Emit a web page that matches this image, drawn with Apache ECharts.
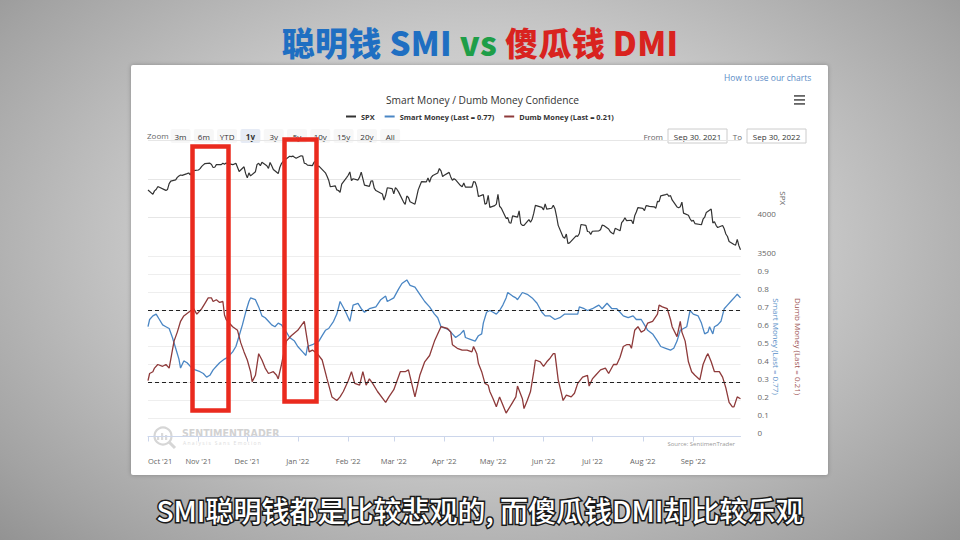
<!DOCTYPE html>
<html>
<head>
<meta charset="utf-8">
<script src="https://cdn.jsdelivr.net/npm/echarts@6/dist/echarts.min.js"></script>
<style>
  html,body{margin:0;padding:0;}
  body{width:960px;height:540px;overflow:hidden;position:relative;
    background:radial-gradient(ellipse 75% 85% at 50% 45%, #e2e2e2 0%, #c9c9c9 45%, #a3a3a3 80%, #8a8a8a 100%);
    font-family:"Noto Sans CJK SC","Noto Sans",sans-serif;}
  #headline{position:absolute;left:0;top:17px;width:960px;text-align:center;font-size:33px;font-weight:900;line-height:50px;letter-spacing:0.3px;}
  #panel{position:absolute;left:131px;top:65px;width:697px;height:410px;background:#fff;border-radius:2px;box-shadow:0 0 4px rgba(0,0,0,0.25);}
  #chart{position:absolute;left:0;top:0;width:960px;height:540px;}
  #caption{position:absolute;left:0;top:490px;width:960px;text-align:center;font-size:28px;font-weight:500;line-height:40px;color:#fff;
    -webkit-text-stroke:3px #1a1a1a;paint-order:stroke fill;}
</style>
</head>
<body>
<div id="headline"><span style="color:#1f6fc2">聪明钱 SMI</span> <span style="color:#1e9e48">vs</span> <span style="color:#d9231f">傻瓜钱 DMI</span></div>
<div id="panel"></div>
<div id="chart"></div>
<div id="caption">SMI聪明钱都是比较悲观的, 而傻瓜钱DMI却比较乐观</div>
<script>
// ---------------- DATA ----------------
const monthTicks = ['2021-10-01','2021-11-01','2021-12-01','2022-01-01','2022-02-01','2022-03-01','2022-04-01','2022-05-01','2022-06-01','2022-07-01','2022-08-01','2022-09-01'];
const monthNames = ['Jan','Feb','Mar','Apr','May','Jun','Jul','Aug','Sep','Oct','Nov','Dec'];
const spxTicks = [3500, 4000];

const spx = [
['2021-10-01',4357],['2021-10-04',4300],['2021-10-05',4345],['2021-10-06',4363],['2021-10-07',4399],['2021-10-08',4391],['2021-10-11',4361],['2021-10-12',4351],['2021-10-13',4364],['2021-10-14',4438],['2021-10-15',4471],['2021-10-18',4486],['2021-10-19',4519],['2021-10-20',4537],['2021-10-21',4549],['2021-10-22',4545],['2021-10-25',4567],['2021-10-26',4575],['2021-10-27',4551],['2021-10-28',4596],['2021-10-29',4605],
['2021-11-01',4614],['2021-11-02',4631],['2021-11-03',4660],['2021-11-04',4680],['2021-11-05',4697],['2021-11-08',4702],['2021-11-09',4685],['2021-11-10',4646],['2021-11-11',4649],['2021-11-12',4683],['2021-11-15',4683],['2021-11-16',4701],['2021-11-17',4689],['2021-11-18',4704],['2021-11-19',4698],['2021-11-22',4683],['2021-11-23',4690],['2021-11-24',4701],['2021-11-26',4595],['2021-11-29',4655],['2021-11-30',4567],
['2021-12-01',4513],['2021-12-02',4577],['2021-12-03',4538],['2021-12-06',4592],['2021-12-07',4686],['2021-12-08',4701],['2021-12-09',4668],['2021-12-10',4712],['2021-12-13',4669],['2021-12-14',4635],['2021-12-15',4710],['2021-12-16',4669],['2021-12-17',4621],['2021-12-20',4568],['2021-12-21',4649],['2021-12-22',4697],['2021-12-23',4725],['2021-12-27',4791],['2021-12-28',4786],['2021-12-29',4793],['2021-12-30',4778],['2021-12-31',4766],
['2022-01-03',4797],['2022-01-04',4794],['2022-01-05',4701],['2022-01-06',4696],['2022-01-07',4677],['2022-01-10',4670],['2022-01-11',4713],['2022-01-12',4726],['2022-01-13',4659],['2022-01-14',4663],['2022-01-18',4577],['2022-01-19',4533],['2022-01-20',4483],['2022-01-21',4398],['2022-01-24',4410],['2022-01-25',4357],['2022-01-26',4350],['2022-01-27',4327],['2022-01-28',4432],['2022-01-31',4516],
['2022-02-01',4546],['2022-02-02',4589],['2022-02-03',4477],['2022-02-04',4501],['2022-02-07',4484],['2022-02-08',4522],['2022-02-09',4587],['2022-02-10',4504],['2022-02-11',4419],['2022-02-14',4402],['2022-02-15',4472],['2022-02-16',4475],['2022-02-17',4380],['2022-02-18',4349],['2022-02-22',4305],['2022-02-23',4226],['2022-02-24',4288],['2022-02-25',4385],['2022-02-28',4374],
['2022-03-01',4306],['2022-03-02',4387],['2022-03-03',4363],['2022-03-04',4329],['2022-03-07',4201],['2022-03-08',4171],['2022-03-09',4278],['2022-03-10',4260],['2022-03-11',4204],['2022-03-14',4173],['2022-03-15',4263],['2022-03-16',4358],['2022-03-17',4412],['2022-03-18',4463],['2022-03-21',4461],['2022-03-22',4512],['2022-03-23',4457],['2022-03-24',4520],['2022-03-25',4543],['2022-03-28',4576],['2022-03-29',4632],['2022-03-30',4602],['2022-03-31',4530],
['2022-04-01',4546],['2022-04-04',4583],['2022-04-05',4525],['2022-04-06',4481],['2022-04-07',4501],['2022-04-08',4488],['2022-04-11',4413],['2022-04-12',4397],['2022-04-13',4447],['2022-04-14',4393],['2022-04-18',4392],['2022-04-19',4463],['2022-04-20',4459],['2022-04-21',4394],['2022-04-22',4272],['2022-04-25',4297],['2022-04-26',4175],['2022-04-27',4184],['2022-04-28',4288],['2022-04-29',4132],
['2022-05-02',4155],['2022-05-03',4175],['2022-05-04',4301],['2022-05-05',4147],['2022-05-06',4123],['2022-05-09',3991],['2022-05-10',4001],['2022-05-11',3935],['2022-05-12',3930],['2022-05-13',4024],['2022-05-16',4008],['2022-05-17',4088],['2022-05-18',3924],['2022-05-19',3901],['2022-05-20',3901],['2022-05-23',3974],['2022-05-24',3941],['2022-05-25',3979],['2022-05-26',4058],['2022-05-27',4158],['2022-05-31',4132],
['2022-06-01',4101],['2022-06-02',4177],['2022-06-03',4109],['2022-06-06',4121],['2022-06-07',4161],['2022-06-08',4116],['2022-06-09',4018],['2022-06-10',3901],['2022-06-13',3750],['2022-06-14',3735],['2022-06-15',3790],['2022-06-16',3667],['2022-06-17',3675],['2022-06-21',3765],['2022-06-22',3760],['2022-06-23',3796],['2022-06-24',3912],['2022-06-27',3901],['2022-06-28',3822],['2022-06-29',3819],['2022-06-30',3785],
['2022-07-01',3825],['2022-07-05',3831],['2022-07-06',3845],['2022-07-07',3903],['2022-07-08',3899],['2022-07-11',3855],['2022-07-12',3819],['2022-07-13',3802],['2022-07-14',3790],['2022-07-15',3863],['2022-07-18',3831],['2022-07-19',3937],['2022-07-20',3960],['2022-07-21',3999],['2022-07-22',3962],['2022-07-25',3967],['2022-07-26',3921],['2022-07-27',4024],['2022-07-28',4073],['2022-07-29',4130],
['2022-08-01',4119],['2022-08-02',4091],['2022-08-03',4155],['2022-08-04',4152],['2022-08-05',4145],['2022-08-08',4140],['2022-08-09',4122],['2022-08-10',4210],['2022-08-11',4207],['2022-08-12',4280],['2022-08-15',4297],['2022-08-16',4305],['2022-08-17',4275],['2022-08-18',4284],['2022-08-19',4228],['2022-08-22',4138],['2022-08-23',4128],['2022-08-24',4141],['2022-08-25',4200],['2022-08-26',4058],['2022-08-29',4031],['2022-08-30',3986],['2022-08-31',3955],
['2022-09-01',3967],['2022-09-02',3924],['2022-09-06',3909],['2022-09-07',3980],['2022-09-08',4006],['2022-09-09',4068],['2022-09-12',4110],['2022-09-13',3933],['2022-09-14',3946],['2022-09-15',3901],['2022-09-16',3873],['2022-09-19',3900],['2022-09-20',3856],['2022-09-21',3790],['2022-09-22',3758],['2022-09-23',3693],['2022-09-26',3655],['2022-09-27',3647],['2022-09-28',3720],['2022-09-29',3640],['2022-09-30',3586]
];

const smartMoney = [
['2021-10-01',0.61],['2021-10-02',0.65],['2021-10-04',0.67],['2021-10-06',0.68],['2021-10-08',0.65],['2021-10-10',0.62],['2021-10-12',0.61],['2021-10-14',0.60],['2021-10-16',0.55],['2021-10-18',0.49],['2021-10-20',0.43],['2021-10-21',0.38],['2021-10-23',0.42],['2021-10-25',0.41],['2021-10-28',0.38],['2021-10-30',0.37],
['2021-11-02',0.36],['2021-11-04',0.35],['2021-11-06',0.33],['2021-11-08',0.34],['2021-11-10',0.37],['2021-11-12',0.39],['2021-11-14',0.41],['2021-11-17',0.43],['2021-11-19',0.44],['2021-11-22',0.47],['2021-11-24',0.50],['2021-11-26',0.56],['2021-11-28',0.62],['2021-11-30',0.69],
['2021-12-02',0.75],['2021-12-03',0.77],['2021-12-06',0.76],['2021-12-08',0.72],['2021-12-10',0.67],['2021-12-12',0.66],['2021-12-14',0.64],['2021-12-16',0.62],['2021-12-18',0.61],['2021-12-20',0.63],['2021-12-22',0.62],['2021-12-25',0.58],['2021-12-27',0.55],['2021-12-30',0.53],
['2022-01-01',0.50],['2022-01-04',0.47],['2022-01-06',0.45],['2022-01-07',0.50],['2022-01-10',0.51],['2022-01-14',0.53],['2022-01-16',0.56],['2022-01-18',0.59],['2022-01-20',0.60],['2022-01-23',0.64],['2022-01-25',0.68],['2022-01-27',0.75],['2022-01-30',0.70],
['2022-02-02',0.64],['2022-02-04',0.73],['2022-02-07',0.74],['2022-02-09',0.71],['2022-02-11',0.69],['2022-02-14',0.71],['2022-02-18',0.72],['2022-02-21',0.76],['2022-02-24',0.78],['2022-02-25',0.75],
['2022-03-01',0.77],['2022-03-04',0.82],['2022-03-06',0.85],['2022-03-09',0.87],['2022-03-11',0.84],['2022-03-14',0.83],['2022-03-17',0.79],['2022-03-20',0.75],['2022-03-23',0.72],['2022-03-26',0.68],['2022-03-28',0.66],['2022-03-30',0.61],
['2022-04-02',0.60],['2022-04-04',0.59],['2022-04-06',0.57],['2022-04-08',0.55],['2022-04-11',0.57],['2022-04-13',0.59],['2022-04-14',0.55],['2022-04-17',0.54],['2022-04-20',0.53],['2022-04-22',0.56],['2022-04-24',0.57],['2022-04-25',0.63],['2022-04-27',0.69],['2022-04-29',0.70],
['2022-05-01',0.69],['2022-05-03',0.68],['2022-05-05',0.70],['2022-05-07',0.73],['2022-05-09',0.77],['2022-05-10',0.80],['2022-05-13',0.78],['2022-05-15',0.77],['2022-05-16',0.76],['2022-05-19',0.80],['2022-05-22',0.79],['2022-05-25',0.77],['2022-05-28',0.74],['2022-05-31',0.69],
['2022-06-02',0.67],['2022-06-05',0.67],['2022-06-08',0.65],['2022-06-11',0.66],['2022-06-14',0.68],['2022-06-16',0.68],['2022-06-19',0.68],['2022-06-22',0.68],['2022-06-23',0.72],['2022-06-26',0.71],['2022-06-28',0.70],
['2022-07-01',0.71],['2022-07-03',0.72],['2022-07-05',0.73],['2022-07-07',0.71],['2022-07-10',0.74],['2022-07-13',0.71],['2022-07-16',0.71],['2022-07-18',0.69],['2022-07-20',0.67],['2022-07-23',0.66],['2022-07-26',0.67],['2022-07-28',0.65],['2022-07-31',0.65],
['2022-08-02',0.62],['2022-08-04',0.59],['2022-08-07',0.57],['2022-08-10',0.53],['2022-08-12',0.50],['2022-08-15',0.49],['2022-08-18',0.48],['2022-08-20',0.49],['2022-08-22',0.53],['2022-08-24',0.59],['2022-08-26',0.60],['2022-08-28',0.61],['2022-08-30',0.70],
['2022-09-01',0.68],['2022-09-04',0.67],['2022-09-06',0.63],['2022-09-08',0.57],['2022-09-10',0.58],['2022-09-11',0.61],['2022-09-13',0.57],['2022-09-14',0.61],['2022-09-16',0.62],['2022-09-18',0.64],['2022-09-20',0.71],['2022-09-22',0.73],['2022-09-24',0.75],['2022-09-27',0.78],['2022-09-28',0.79],['2022-09-30',0.77]
];

const dumbMoney = [
['2021-10-01',0.31],['2021-10-02',0.35],['2021-10-04',0.36],['2021-10-05',0.38],['2021-10-07',0.40],['2021-10-10',0.39],['2021-10-12',0.40],['2021-10-14',0.38],['2021-10-15',0.43],['2021-10-17',0.53],['2021-10-19',0.58],['2021-10-21',0.64],['2021-10-23',0.67],['2021-10-26',0.69],['2021-10-29',0.71],['2021-10-31',0.68],
['2021-11-03',0.71],['2021-11-05',0.74],['2021-11-07',0.77],['2021-11-09',0.77],['2021-11-10',0.75],['2021-11-12',0.76],['2021-11-14',0.745],['2021-11-16',0.75],['2021-11-17',0.675],['2021-11-18',0.65],['2021-11-22',0.61],['2021-11-25',0.59],['2021-11-27',0.52],['2021-11-29',0.47],
['2021-12-01',0.425],['2021-12-03',0.36],['2021-12-04',0.305],['2021-12-06',0.34],['2021-12-08',0.46],['2021-12-10',0.425],['2021-12-12',0.38],['2021-12-14',0.35],['2021-12-17',0.36],['2021-12-19',0.34],['2021-12-20',0.32],['2021-12-22',0.40],['2021-12-25',0.53],['2021-12-28',0.56],
['2022-01-01',0.59],['2022-01-03',0.615],['2022-01-05',0.64],['2022-01-08',0.47],['2022-01-10',0.48],['2022-01-13',0.46],['2022-01-16',0.425],['2022-01-19',0.32],['2022-01-22',0.22],['2022-01-25',0.20],['2022-01-27',0.22],['2022-01-29',0.25],
['2022-02-01',0.31],['2022-02-03',0.36],['2022-02-05',0.295],['2022-02-08',0.285],['2022-02-10',0.36],['2022-02-12',0.285],['2022-02-14',0.32],['2022-02-16',0.295],['2022-02-19',0.25],['2022-02-24',0.19],['2022-02-26',0.22],
['2022-03-01',0.26],['2022-03-05',0.36],['2022-03-08',0.36],['2022-03-10',0.37],['2022-03-12',0.295],['2022-03-14',0.22],['2022-03-17',0.34],['2022-03-20',0.415],['2022-03-23',0.45],['2022-03-26',0.53],['2022-03-30',0.61],
['2022-04-03',0.60],['2022-04-05',0.58],['2022-04-06',0.51],['2022-04-09',0.49],['2022-04-12',0.48],['2022-04-15',0.48],['2022-04-18',0.47],['2022-04-19',0.50],['2022-04-21',0.46],['2022-04-22',0.405],['2022-04-24',0.36],['2022-04-26',0.295],['2022-04-28',0.285],['2022-04-29',0.25],
['2022-05-01',0.21],['2022-05-03',0.165],['2022-05-05',0.22],['2022-05-07',0.175],['2022-05-09',0.13],['2022-05-10',0.145],['2022-05-13',0.19],['2022-05-15',0.22],['2022-05-16',0.28],['2022-05-19',0.21],['2022-05-20',0.155],['2022-05-22',0.20],['2022-05-24',0.25],['2022-05-26',0.36],['2022-05-27',0.425],['2022-05-30',0.415],
['2022-06-01',0.39],['2022-06-03',0.415],['2022-06-05',0.435],['2022-06-07',0.46],['2022-06-08',0.46],['2022-06-10',0.315],['2022-06-12',0.24],['2022-06-13',0.20],['2022-06-15',0.23],['2022-06-18',0.22],['2022-06-20',0.24],['2022-06-22',0.295],['2022-06-25',0.33],['2022-06-28',0.34],['2022-06-29',0.28],
['2022-07-01',0.32],['2022-07-03',0.34],['2022-07-06',0.37],['2022-07-09',0.38],['2022-07-11',0.35],['2022-07-14',0.40],['2022-07-16',0.40],['2022-07-18',0.44],['2022-07-20',0.50],['2022-07-22',0.51],['2022-07-24',0.51],['2022-07-25',0.49],['2022-07-27',0.59],['2022-07-29',0.61],['2022-07-31',0.58],
['2022-08-02',0.59],['2022-08-04',0.63],['2022-08-07',0.64],['2022-08-10',0.68],['2022-08-11',0.73],['2022-08-13',0.72],['2022-08-16',0.71],['2022-08-18',0.65],['2022-08-19',0.61],['2022-08-22',0.555],['2022-08-24',0.64],['2022-08-25',0.58],['2022-08-27',0.53],['2022-08-29',0.415],['2022-08-31',0.36],
['2022-09-02',0.34],['2022-09-05',0.315],['2022-09-07',0.40],['2022-09-09',0.445],['2022-09-10',0.46],['2022-09-12',0.415],['2022-09-14',0.36],['2022-09-17',0.36],['2022-09-19',0.33],['2022-09-21',0.27],['2022-09-23',0.19],['2022-09-25',0.165],['2022-09-26',0.165],['2022-09-28',0.22],['2022-09-30',0.21]
];

const thresholds = [0.7, 0.3];
const rangeButtons = ['3m','6m','YTD','1y','3y','5y','10y','15y','20y','All'];
const selectedRange = '1y';

// ---------------- CHART ----------------
const toTs = s => { const p = s.split('-').map(Number); return new Date(p[0], p[1]-1, p[2]).getTime(); };
const conv = arr => arr.map(d => [toTs(d[0]), d[1]]);
const tickTs = monthTicks.map(toTs);
const xMin = toTs('2021-10-01'), xMax = toTs('2022-09-30');
const FONT = '"Open Sans", "Noto Sans", sans-serif';
const BLUE = '#4a86c4', RED = '#8e3a3a';

const chart = echarts.init(document.getElementById('chart'), null, {renderer: 'svg'});

const graphics = [];
graphics.push({type:'text', left:724, top:73, style:{text:'How to use our charts', fill:'#5a8cc6', font:'8.5px ' + FONT}});
[0,4,8].forEach(dy => graphics.push({type:'rect', shape:{x:794, y:95+dy, width:11, height:1.8}, style:{fill:'#666'}}));
graphics.push({type:'text', left:147, top:131, style:{text:'Zoom', fill:'#666', font:'8px ' + FONT}});
rangeButtons.forEach((b, i) => {
  const cx = 180.5 + i * 23.3;
  const sel = b === selectedRange;
  graphics.push({type:'rect', shape:{x:cx-10, y:129, width:20, height:14, r:2}, style:{fill: sel ? '#e6ebf5' : '#f7f7f7'}});
  graphics.push({type:'text', x:cx, y:136, style:{text:b, fill:'#333', font:(sel?'bold ':'') + '8px ' + FONT, textAlign:'center', textVerticalAlign:'middle'}});
});
graphics.push({type:'text', x:663, y:136, style:{text:'From', fill:'#666', font:'8px ' + FONT, textAlign:'right', textVerticalAlign:'middle'}});
graphics.push({type:'rect', shape:{x:668, y:129, width:59, height:14}, style:{fill:'#fff', stroke:'#ccc', lineWidth:1}});
graphics.push({type:'text', x:697.5, y:136, style:{text:'Sep 30, 2021', fill:'#333', font:'8px ' + FONT, textAlign:'center', textVerticalAlign:'middle'}});
graphics.push({type:'text', x:742, y:136, style:{text:'To', fill:'#666', font:'8px ' + FONT, textAlign:'right', textVerticalAlign:'middle'}});
graphics.push({type:'rect', shape:{x:747, y:129, width:59, height:14}, style:{fill:'#fff', stroke:'#ccc', lineWidth:1}});
graphics.push({type:'text', x:776.5, y:136, style:{text:'Sep 30, 2022', fill:'#333', font:'8px ' + FONT, textAlign:'center', textVerticalAlign:'middle'}});
graphics.push({type:'circle', shape:{cx:163, cy:436, r:8.5}, style:{fill:'none', stroke:'#d6d6d6', lineWidth:2.2}});
graphics.push({type:'line', shape:{x1:169, y1:442, x2:175, y2:448}, style:{stroke:'#d6d6d6', lineWidth:3}});
[[158,4],[162,7],[166,5]].forEach(b => graphics.push({type:'rect', shape:{x:b[0]-1, y:440-b[1], width:2.2, height:b[1]}, style:{fill:'#dadada'}}));
graphics.push({type:'text', left:182, top:427, style:{text:'SENTIMENTRADER', fill:'#d2d2d2', font:'bold 10.5px "DejaVu Sans Condensed", sans-serif'}});
graphics.push({type:'text', left:183, top:440, style:{text:'A n a l y s i s   S a n s   E m o t i o n', fill:'#dcdcdc', font:'5px ' + FONT}});
graphics.push({type:'text', x:735, y:444, style:{text:'Source: SentimenTrader', fill:'#999', font:'6px ' + FONT, textAlign:'right', textVerticalAlign:'middle'}});
graphics.push({type:'rect', z:100, shape:{x:192.5, y:146.5, width:36, height:264}, style:{fill:'none', stroke:'#ea2a1e', lineWidth:4.5}});
graphics.push({type:'rect', z:100, shape:{x:284.5, y:139.5, width:32, height:262}, style:{fill:'none', stroke:'#ea2a1e', lineWidth:4.5}});

const fmtMonth = v => { const d = new Date(v); return monthNames[d.getMonth()] + " '" + String(d.getFullYear()).slice(2); };

const option = {
  animation: false,
  backgroundColor: 'transparent',
  textStyle: {fontFamily: FONT},
  title: {text: 'Smart Money / Dumb Money Confidence', left: 381, top: 90,
    textStyle: {fontSize: 10.2, fontWeight: 'normal', color: '#333', fontFamily: FONT}},
  legend: {top: 108, left: 341, itemWidth: 10, itemHeight: 2, itemGap: 10, icon: 'rect',
    textStyle: {fontSize: 7.4, fontWeight: 'bold', color: '#333', fontFamily: FONT},
    data: ['SPX', 'Smart Money (Last = 0.77)', 'Dumb Money (Last = 0.21)']},
  grid: [
    {left: 148, right: 219.5, top: 140, height: 116.5},
    {left: 148, right: 219.5, top: 256.5, height: 180}
  ],
  xAxis: [
    {type: 'value', gridIndex: 0, min: xMin, max: xMax,
     axisLine: {show: false}, axisTick: {show: false}, axisLabel: {show: false}, splitLine: {show: false}},
    {type: 'value', gridIndex: 1, min: xMin, max: xMax, offset: 14.5,
     axisLine: {show: true, lineStyle: {color: '#ccd6eb', width: 1}},
     axisTick: {show: true, customValues: tickTs, length: 5, lineStyle: {color: '#ccd6eb'}},
     axisLabel: {customValues: tickTs, margin: 6, fontSize: 7.5, color: '#666', fontFamily: FONT, alignMinLabel: 'left',
       formatter: fmtMonth},
     splitLine: {show: false}}
  ],
  yAxis: [
    {type: 'value', gridIndex: 0, position: 'right', min: 3500, max: 5000, interval: 500,
     name: 'SPX', nameLocation: 'middle', nameRotate: -90, nameGap: 39, nameMoveOverlap: false,
     nameTextStyle: {color: '#666', fontSize: 8, fontFamily: FONT},
     axisLine: {show: false}, axisTick: {show: false},
     axisLabel: {margin: 17, fontSize: 8, color: '#666', fontFamily: FONT, verticalAlign: 'bottom', lineHeight: 9,
       formatter: v => spxTicks.indexOf(v) >= 0 ? String(v) : ''},
     splitLine: {show: true, lineStyle: {color: '#e6e6e6', width: 1}}},
    {type: 'value', gridIndex: 1, position: 'right', min: 0, max: 1, interval: 0.1,
     name: 'Smart Money (Last = 0.77)', nameLocation: 'middle', nameRotate: -90, nameGap: 32, nameMoveOverlap: false,
     nameTextStyle: {color: '#5a8fc8', fontSize: 8, fontFamily: FONT},
     axisLine: {show: false}, axisTick: {show: false},
     axisLabel: {margin: 17, fontSize: 8, color: '#666', fontFamily: FONT, verticalAlign: 'bottom', lineHeight: 8,
       formatter: v => v > 0.95 ? '' : String(+v.toFixed(1))},
     splitLine: {show: true, lineStyle: {color: '#eeeeee', width: 1}}},
    {type: 'value', gridIndex: 1, position: 'right', min: 0, max: 1, interval: 0.1,
     name: 'Dumb Money (Last = 0.21)', nameLocation: 'middle', nameRotate: -90, nameGap: 54, nameMoveOverlap: false,
     nameTextStyle: {color: '#a05555', fontSize: 8, fontFamily: FONT},
     axisLine: {show: false}, axisTick: {show: false}, axisLabel: {show: false}, splitLine: {show: false}}
  ],
  series: [
    {name: 'SPX', type: 'line', xAxisIndex: 0, yAxisIndex: 0, data: conv(spx), showSymbol: false, symbol: 'none',
     color: '#333', lineStyle: {color: '#333', width: 1.2}},
    {name: 'Smart Money (Last = 0.77)', type: 'line', xAxisIndex: 1, yAxisIndex: 1, data: conv(smartMoney), showSymbol: false, symbol: 'none',
     color: BLUE, lineStyle: {color: BLUE, width: 1.3},
     markLine: {silent: true, symbol: ['none', 'none'], label: {show: false},
       lineStyle: {color: '#222', type: [4, 3], width: 1.2}, data: thresholds.map(t => ({yAxis: t}))}},
    {name: 'Dumb Money (Last = 0.21)', type: 'line', xAxisIndex: 1, yAxisIndex: 2, data: conv(dumbMoney), showSymbol: false, symbol: 'none',
     color: RED, lineStyle: {color: RED, width: 1.3}}
  ],
  graphic: graphics
};
chart.setOption(option);
</script>
</body>
</html>
